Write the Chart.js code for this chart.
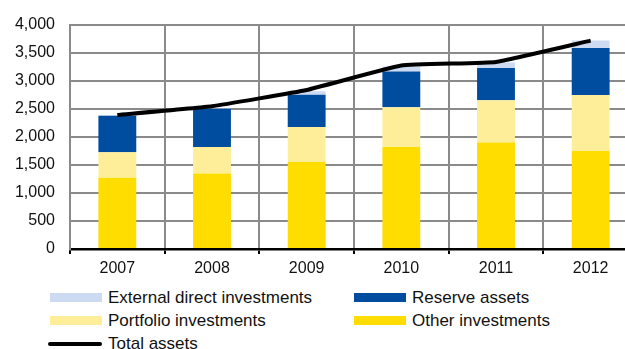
<!DOCTYPE html>
<html>
<head>
<meta charset="utf-8">
<script src="https://cdn.jsdelivr.net/npm/chart.js@4/dist/chart.umd.min.js"></script>
<style>
  html, body { margin: 0; padding: 0; background: #fff; overflow: hidden; }
  #wrap { position: relative; width: 625px; height: 349px; overflow: hidden; }
  #chart { position: absolute; left: 0; top: 0; }
  .legend-item {
    position: absolute; display: flex; align-items: center; height: 23px;
    font-family: "Liberation Sans", Arial, sans-serif; font-size: 17px; color: #111;
    white-space: nowrap;
  }
  .legend-item .swatch { width: 52px; height: 9px; margin-right: 6px; }
  .legend-item .swatch.line { height: 4px; border-radius: 2px; background: #000; }
</style>
</head>
<body>
<div id="wrap">
  <canvas id="chart" width="640" height="282"></canvas>
  <div id="legend"></div>
</div>
<script>
// 年份
const years = ['2007', '2008', '2009', '2010', '2011', '2012'];

// 各项资产 (堆叠柱)
const otherInvestments     = [1270, 1345, 1550, 1820, 1900, 1745];
const portfolioInvestments = [455, 475, 625, 705, 750, 1000];
const reserveAssets        = [650, 680, 575, 640, 575, 840];
const externalDirect       = [10, 10, 60, 90, 100, 130];

// 总资产 (折线)
const totalAssets = [2390, 2545, 2835, 3270, 3335, 3715];

// 纵轴刻度
const yTicks = [0, 500, 1000, 1500, 2000, 2500, 3000, 3500, 4000];

const colors = {
  external: '#ccdaf2',
  reserve: '#004c9f',
  portfolio: '#ffee99',
  other: '#ffdd00',
  total: '#000000'
};

const FONT = '"Liberation Sans", Arial, sans-serif';

function barSet(label, data, color) {
  return {
    type: 'bar',
    label: label,
    data: data,
    backgroundColor: color,
    borderWidth: 0,
    order: 1,
    barPercentage: 0.4,
    categoryPercentage: 1.0
  };
}

const ctx = document.getElementById('chart').getContext('2d');
window.assetChart = new Chart(ctx, {
  data: {
    labels: years,
    datasets: [
      {
        type: 'line',
        label: 'Total assets',
        data: totalAssets,
        borderColor: colors.total,
        borderWidth: 4,
        pointRadius: 0,
        tension: 0.1,
        fill: false,
        order: 0
      },
      barSet('Other investments', otherInvestments, colors.other),
      barSet('Portfolio investments', portfolioInvestments, colors.portfolio),
      barSet('Reserve assets', reserveAssets, colors.reserve),
      barSet('External direct investments', externalDirect, colors.external)
    ]
  },
  options: {
    responsive: false,
    animation: false,
    layout: { padding: { top: 24, right: 2, left: 0, bottom: 0 } },
    plugins: {
      legend: { display: false },
      tooltip: { enabled: false }
    },
    scales: {
      x: {
        stacked: true,
        offset: true,
        grid: {
          offset: true,
          color: '#8a8a8a',
          lineWidth: 2,
          drawTicks: true,
          tickLength: 5,
          tickColor: '#000',
          tickWidth: 2
        },
        border: { color: '#000', width: 2.5 },
        ticks: {
          color: '#111',
          padding: 5,
          maxRotation: 0,
          font: { family: FONT, size: 16 }
        },
        afterFit: (scale) => { scale.height = 33; }
      },
      y: {
        stacked: true,
        min: 0,
        max: 4000,
        afterBuildTicks: (scale) => { scale.ticks = yTicks.map(v => ({ value: v })); },
        grid: {
          color: (c) => c.tick && c.tick.value === 0 ? 'rgba(0,0,0,0)' : '#8a8a8a',
          lineWidth: 2,
          drawTicks: false
        },
        border: { color: '#8a8a8a', width: 2 },
        ticks: {
          color: '#111',
          padding: 15,
          font: { family: FONT, size: 16 },
          callback: (v) => v.toLocaleString('en-US')
        },
        afterFit: (scale) => { scale.width = 70; }
      }
    }
  }
});

// 图例 (两列)
const legendItems = [
  { label: 'External direct investments', color: colors.external, x: 50, y: 286 },
  { label: 'Reserve assets', color: colors.reserve, x: 354, y: 286 },
  { label: 'Portfolio investments', color: colors.portfolio, x: 50, y: 309 },
  { label: 'Other investments', color: colors.other, x: 354, y: 309 },
  { label: 'Total assets', color: colors.total, x: 48, y: 332, line: true }
];
const legendEl = document.getElementById('legend');
legendItems.forEach(item => {
  const div = document.createElement('div');
  div.className = 'legend-item';
  div.style.left = item.x + 'px';
  div.style.top = item.y + 'px';
  const sw = document.createElement('span');
  sw.className = 'swatch' + (item.line ? ' line' : '');
  if (item.line) sw.style.width = '54px';
  sw.style.background = item.color;
  const txt = document.createElement('span');
  txt.textContent = item.label;
  div.appendChild(sw);
  div.appendChild(txt);
  legendEl.appendChild(div);
});
</script>
</body>
</html>
